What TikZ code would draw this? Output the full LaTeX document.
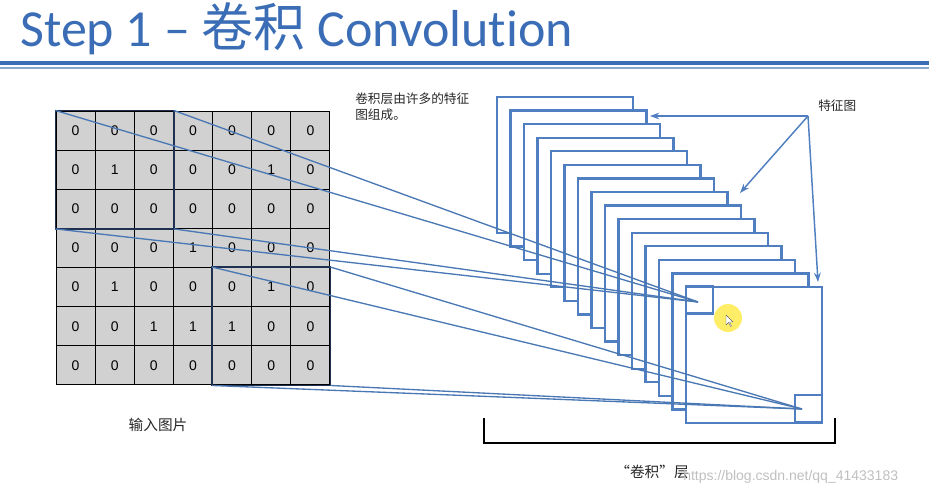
\documentclass[tikz,border=0pt]{standalone}
\usepackage{fontspec}
\setmainfont{Liberation Sans}
\newfontfamily\titlefont[Ligatures={NoCommon}]{Carlito}
\newfontfamily\cjk{Noto Sans CJK SC}
\usetikzlibrary{arrows.meta}
\definecolor{tblue}{HTML}{3A6DB5}
\definecolor{fblue}{HTML}{4F7FC0}
\definecolor{lblue}{HTML}{4A78B4}
\definecolor{navy}{HTML}{1F3050}
\begin{document}
\begin{tikzpicture}[x=0.75pt,y=-0.75pt,
  frame/.style={draw=fblue,line width=1.8pt,fill=white},
  conn/.style={draw=lblue,line width=1pt},
  cell/.style={draw=black,line width=0.8pt,fill=black!18,minimum size=29.3pt,inner sep=0pt,font=\fontsize{10.5}{12}\selectfont},
  lab/.style={font=\cjk\fontsize{9.5}{12}\selectfont,text=black!85,inner sep=0pt}]
\useasboundingbox (0,0) rectangle (929,496);
% title
\node[anchor=west,inner sep=0pt,text=tblue,font=\titlefont\fontsize{39}{42}\selectfont] (title) at (20,29) {Step 1 – {\cjk 卷积} Convolution};
\draw[tblue,line width=2.4pt] (0,63) -- (929,63);
\draw[tblue!60,line width=0.8pt] (0,68) -- (929,68);
% grid
\foreach \r/\row in {1/{0,0,0,0,0,0,0},2/{0,1,0,0,0,1,0},3/{0,0,0,0,0,0,0},4/{0,0,0,1,0,0,0},5/{0,1,0,0,0,1,0},6/{0,0,1,1,1,0,0},7/{0,0,0,0,0,0,0}}{
  \foreach \v [count=\c] in \row {
    \node[cell] (g\r\c) at ({56+39.14*(\c-0.5)},{111+39.14*(\r-0.5)}) {\v};
  }
}
\draw[navy,line width=1.4pt] (g11.north west) rectangle (g33.south east);
\draw[navy,line width=1.4pt] (g55.north west) rectangle (g77.south east);
% frames
\foreach \i in {0,...,14}{
  \draw[frame] ({497+13.5*\i},{97+13.57*\i}) rectangle ++(136,136);
}
\node[draw=fblue,line width=1.8pt,minimum size=20pt,inner sep=0pt] (k1) at (699.5,300) {};
\node[draw=fblue,line width=1.8pt,minimum size=20pt,inner sep=0pt] (k2) at (808.5,408.5) {};
\fill[yellow!85!orange,opacity=0.6] (728,318) circle (14);
\draw[black!60,fill=white,line width=0.3pt] (726,315) -- (726,325) -- (728.5,322.5) -- (730.5,326.5) -- (731.5,326) -- (729.5,322) -- (733,322) -- cycle;
\coordinate (p1) at (698,302);
\coordinate (p2) at (802,409);
% connectors
\foreach \a in {g11.north west,g13.north east,g31.south west,g33.south east}{\draw[conn] (\a) -- (p1);}
\foreach \a in {g55.north west,g57.north east,g75.south west,g77.south east}{\draw[conn] (\a) -- (p2);}
% labels
\node[lab,anchor=north west,align=left] (note) at (355,93) {卷积层由许多的特征\\图组成。};
\node[lab,anchor=west] (fm) at (818,106) {特征图};
\coordinate (hub) at (808,116);
\draw[fblue,line width=1.1pt,-{Stealth[length=7pt,width=5pt]}] (hub) -- (650,116);
\draw[fblue,line width=1.1pt,-{Stealth[length=7pt,width=5pt]}] (hub) -- (740,193);
\draw[fblue,line width=1.1pt,-{Stealth[length=7pt,width=5pt]}] (hub) -- (818,282);
\node[lab,font=\cjk\fontsize{11}{13}\selectfont] (inp) at (158,425) {输入图片};
\coordinate (b1) at (484,418);
\coordinate (b2) at (835,418);
\draw[black,line width=1pt] (b1) -- (484,443) -- (835,443) -- (b2);
\node[lab,font=\cjk\fontsize{11}{13}\selectfont] (layer) at (652,472) {“卷积”层};
\node[inner sep=0pt,anchor=west,text=black!25,font=\fontsize{10.5}{12}\selectfont] (wm) at (683,477) {https://blog.csdn.net/qq\_41433183};
\end{tikzpicture}
\end{document}
